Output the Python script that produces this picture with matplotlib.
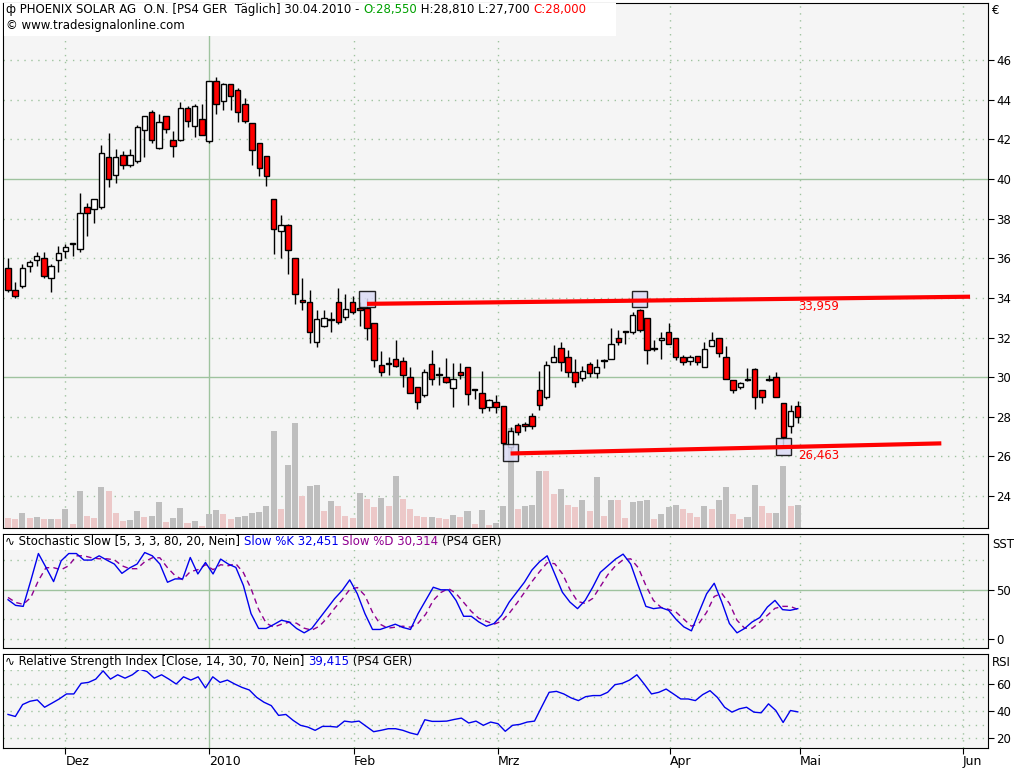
import numpy as np
import matplotlib
matplotlib.use("Agg")
import matplotlib.pyplot as plt
import matplotlib.transforms as mtransforms
from matplotlib.patches import Rectangle

plt.rcParams['font.family'] = ['DejaVu Sans']
plt.rcParams['font.size'] = 8

opens = [35.5,34.4,34.6,35.6,35.9,36.0,35.0,35.9,36.35,36.7,36.45,38.57,38.5,38.6,41.1,40.2,41.2,40.7,40.9,42.45,
         43.4,41.55,43.2,41.95,41.95,43.56,42.65,43.05,41.9,44.92,43.96,44.8,44.5,43.76,42.8,41.8,41.14,38.97,37.4,37.66,
         36.0,33.87,33.77,31.75,32.6,32.9,33.8,33.02,33.8,33.47,33.47,32.71,30.6,30.65,30.9,30.8,29.99,29.48,29.08,30.65,
         30.09,29.99,29.43,30.24,30.5,29.33,29.18,28.48,28.73,28.53,26.5,27.57,27.62,28.02,29.33,28.98,30.75,31.45,31.0,30.24,
         29.94,30.65,30.19,30.8,30.9,31.96,32.26,32.26,33.37,32.97,31.4,31.9,32.26,31.96,31.0,30.8,31.05,30.5,31.55,31.96,
         31.0,29.84,29.48,29.84,30.4,29.33,29.84,29.99,28.68,27.52,28.55]
closes = [34.4,34.1,35.5,35.8,36.1,35.1,35.6,36.25,36.55,36.7,38.26,38.3,38.97,41.3,40.0,41.1,40.7,41.2,42.6,43.16,
          41.95,42.9,42.5,41.65,43.56,42.95,43.7,42.2,44.92,43.76,44.77,44.2,43.4,42.95,41.44,40.53,40.13,37.5,37.66,36.4,
          34.18,33.77,32.26,32.96,33.0,32.96,32.76,33.42,33.3,33.37,32.46,30.85,30.24,30.65,30.54,30.09,29.18,28.73,30.24,29.89,
          30.09,29.74,29.89,30.09,29.13,29.33,28.43,28.83,28.48,26.66,27.26,27.21,27.52,27.52,28.58,30.6,31.0,30.75,30.24,29.74,
          30.29,30.19,30.5,30.8,31.65,31.8,32.26,33.12,32.36,31.35,31.4,32.0,31.65,31.0,30.75,31.0,30.75,31.4,31.86,31.2,
          29.89,29.33,29.69,29.84,28.98,28.98,29.84,28.98,27.0,28.27,28.0]
highs = [36.0,34.8,35.7,35.9,36.3,36.3,35.7,36.6,36.7,36.75,39.3,38.8,39.0,41.7,42.3,41.5,41.4,41.5,42.7,43.2,
         43.5,43.3,43.2,42.4,43.9,43.7,43.8,43.8,44.92,45.15,44.85,44.8,44.6,44.1,42.8,41.8,41.14,38.97,38.2,37.75,
         36.0,35.0,34.4,33.4,33.4,33.3,34.5,34.2,34.1,33.8,34.0,32.71,31.3,31.0,31.9,31.0,30.5,29.5,30.4,31.35,
         30.5,30.95,30.7,30.7,30.5,29.4,30.3,28.9,29.1,28.53,27.5,27.7,27.75,28.2,30.3,30.8,31.6,31.75,31.35,30.9,
         30.55,30.75,30.9,30.9,32.5,32.4,32.26,33.3,33.45,32.97,31.9,32.3,32.75,31.96,31.1,31.1,31.05,31.75,32.3,31.96,
         31.55,29.84,29.75,30.45,30.45,29.35,30.1,30.25,28.68,28.6,28.81]
lows = [34.3,34.0,34.5,35.3,35.6,35.0,34.3,35.3,36.0,36.1,36.3,37.1,37.8,38.5,39.6,39.8,40.5,40.6,40.8,41.1,
        41.8,41.5,42.3,41.1,41.9,42.6,42.1,42.2,41.8,43.3,43.5,43.5,42.9,42.8,40.7,40.15,39.65,36.2,36.0,35.2,
        33.7,33.4,31.7,31.5,32.55,32.3,32.7,32.9,33.2,32.6,31.9,30.5,30.05,30.1,30.5,29.5,29.2,28.4,29.0,29.6,
        29.6,29.7,28.5,29.9,28.6,28.9,28.2,28.3,28.2,26.6,26.3,27.1,27.3,27.4,28.35,28.9,30.75,30.3,30.0,29.5,
        29.8,30.0,29.95,30.45,30.9,31.6,31.65,32.2,32.3,30.65,31.3,30.9,31.65,30.85,30.6,30.6,30.6,30.5,31.55,31.0,
        29.89,29.2,29.4,29.8,28.4,28.7,29.8,28.98,26.6,27.2,27.7]

volume = [10,9,15,10,11,9,9,9,19,4,37,12,10,41,37,15,7,8,17,11,12,26,6,10,20,5,7,2,14,18,14,9,11,12,15,16,22,97,19,63,
          105,32,42,43,17,27,22,12,10,35,29,21,30,22,52,29,
          19,12,11,11,10,9,13,11,17,4,18,3,5,22,100,19,22,23,57,57,34,39,23,21,28,17,51,12,28,28,10,26,27,28,9,14,21,23,
          19,15,11,22,19,28,41,14,9,11,43,22,15,15,62,22,23]
vol_color = list("ppgpgpgpgpgppgpppggpggpggpgpggppggggggpggpggpgpppgppgpgp"
                 "pppgppgpgpgpgggpgggppgppgpgpgppgggpgggpppgpggppggppggpg")

stoch_k = [39.7,34,33,59,86.3,72.3,58,79,86.3,86.3,79.7,79.7,84,79.7,75.7,66.3,71.7,75.7,87.3,84,75.7,57.3,60.7,60.7,82.3,
           65.7,77.3,65.7,80.7,75.7,72.3,54,25.7,10.7,10.7,14.7,19,17.3,10.7,6.3,10.7,20.7,30.7,40.7,49,59.7,45.7,25.7,9.7,9.7,
           12.3,15,11.7,9.7,25.7,39,52.3,49.7,49.7,39,23,23,17.3,13,15.7,24,37.3,47.3,57.3,69.7,78,84,65.7,47.3,37.3,30.7,39,
           52.3,67.3,74,80.7,85.7,75.7,54,33,30.7,31.7,29,19.7,12.3,8.3,27.3,45.7,56.3,37.3,15.7,6.3,10.7,17.3,21.7,32.3,39,
           29.7,29,30.7]
stoch_d = [42,37,35,42,59,72,72,70,74,84,84,82,81,81,80,74,71,71,78,82,82,72,64,60,68,70,75,70,75,74,76,67,51,30,16,12,15,
           17,16,11,9,13,21,31,40,50,52,44,27,15,11,12,13,12,16,25,39,47,51,46,37,28,21,18,15,18,26,36,47,58,68,77,76,66,50,
           38,36,41,53,65,74,80,81,72,54,39,32,30,27,20,13,16,27,43,46,36,19,11,11,17,24,31,33,33,30]
rsi = [37.4,35.9,44.7,47.1,48.1,42.7,45.7,48.8,52.5,52.5,60.3,61,63.4,69.5,63.4,66.6,64.1,66.6,70.7,69,64.1,66.6,63.4,59.8,
       65.1,62.7,65.1,56.9,65.1,61,62.7,59.8,57.3,55.4,50,46.4,43.9,36.7,37.4,33,29.4,28.1,25.7,28.6,28.6,28.1,32.5,31.8,32.5,
       28.6,24.7,25.7,26.9,26.9,25.7,23.8,22.5,33.5,32.3,32.3,32.5,33.7,34.7,31.1,32.5,29.4,31.8,30.6,25,29.4,30.1,31.8,32.5,
       43.2,53.7,54.4,52.5,49.6,47.6,50.5,51.3,51.3,53.7,59.3,60.3,62.7,66.6,59.8,52.5,53.7,56.1,52.5,48.8,48.8,47.6,52,54.9,
       50,42.7,39.1,41.5,42.7,39.1,38.6,45.2,40.3,31.5,40.3,39.3]

resist_pts = ([50, 134], [33.70, 34.06])
support_pts = ([70, 130], [26.15, 26.66])
resist_label, support_label = "33,959", "26,463"
box_pts = [(50, 33.95), (88, 33.95), (70, 26.2), (108, 26.5)]

month_idx = [8, 28, 48.2, 68.2, 92.2, 110.3, 133]
month_lbl = ["Dez", "2010", "Feb", "Mrz", "Apr", "Mai", "Jun"]

W, H = 1024, 768
fig = plt.figure(figsize=(W/100, H/100), dpi=100)
BG = "#f5f5f5"
GRID = "#9fc39f"
XL, XR = -0.7, 136.5

def pane(top, bot):
    ax = fig.add_axes([3/W, 1-bot/H, 985/W, (bot-top)/H])
    ax.set_facecolor(BG)
    ax.set_xlim(XL, XR)
    ax.yaxis.tick_right()
    ax.tick_params(axis='y', direction='out', length=4, labelsize=8.5, pad=2)
    ax.tick_params(axis='x', length=0, labelbottom=False)
    for m in month_idx:
        if m == 28:
            ax.axvline(m, color=GRID, lw=1, zorder=0)
        else:
            ax.axvline(m, color=GRID, lw=1, ls=(0, (1, 4)), zorder=0)
    return ax

n = len(closes)
idx = np.arange(n)

# main pane
ax = pane(3, 528)
ax.set_ylim(22.39, 48.88)
ax.set_yticks(range(24, 47, 2))
for v in range(24, 47, 2):
    if v in (30, 40):
        ax.axhline(v, color=GRID, lw=1, zorder=0)
    else:
        ax.axhline(v, color=GRID, lw=1, ls=(0, (1, 4)), zorder=0)

blend = mtransforms.blended_transform_factory(ax.transData, ax.transAxes)
vi = np.linspace(0, n-1, len(volume))
for x, v, c in zip(vi, volume, vol_color):
    ax.add_patch(Rectangle((x-0.42, 0), 0.84, v/525, transform=blend,
                           facecolor="#bebebe" if c == "g" else "#ecc8c8", edgecolor="none", zorder=1))

for i in idx:
    o, c, h, l = opens[i], closes[i], highs[i], lows[i]
    ax.vlines(i, l, h, color="black", lw=1, zorder=3)
    bot, top = min(o, c), max(o, c)
    face = "white" if c > o else ("red" if c < o else "black")
    hgt = max(top - bot, 0.06)
    ax.add_patch(Rectangle((i-0.38, bot), 0.76, hgt, facecolor=face, edgecolor="black", lw=1, zorder=4))

for (bx, by) in box_pts:
    ax.add_patch(Rectangle((bx-1.05, by-0.42), 2.1, 0.84, facecolor="#dcdcf5", edgecolor="black", lw=1, zorder=5, alpha=0.85))
ax.plot(resist_pts[0], resist_pts[1], color="red", lw=3, zorder=6, solid_capstyle='butt')
ax.plot(support_pts[0], support_pts[1], color="red", lw=3, zorder=6, solid_capstyle='butt')
ax.text(110, 33.55, resist_label, color="red", fontsize=8.5, va="center")
ax.text(110, 26.05, support_label, color="red", fontsize=8.5, va="center")

# stochastic
ax2 = pane(534, 648)
ax2.set_ylim(-9, 106)
ax2.set_yticks([0, 50])
for v in (0, 20, 80):
    ax2.axhline(v, color=GRID, lw=1, ls=(0, (1, 4)), zorder=0)
ax2.axhline(50, color=GRID, lw=1, zorder=0)
ax2.plot(np.linspace(0, n-1, len(stoch_d)), stoch_d, color="#900090", lw=1, ls=(0, (4, 3)))
ax2.plot(np.linspace(0, n-1, len(stoch_k)), stoch_k, color="#0000ee", lw=1)

# RSI
ax3 = pane(654, 748)
ax3.set_ylim(12.7, 81.9)
ax3.set_yticks([20, 40, 60])
for v in (20, 30, 40, 50, 60, 70):
    ax3.axhline(v, color=GRID, lw=1, ls=(0, (1, 4)), zorder=0)
ax3.plot(np.linspace(0, n-1, len(rsi)), rsi, color="#0000ee", lw=1)
ax3.set_xticks(month_idx)
ax3.tick_params(axis='x', direction='out', length=4, labelbottom=True, labelsize=9, pad=1)
ax3.set_xticklabels(month_lbl, ha="left")

# header texts
renderer = fig.canvas.get_renderer()
def chain(x, y, parts, size=8.5):
    for s, col in parts:
        t = fig.text(x/W, 1-y/H, s, color=col, fontsize=size, va="center", ha="left")
        bb = t.get_window_extent(renderer)
        x += bb.width
    return x

fig.patches.append(Rectangle((4/W, 1-36/H), 612/W, 33/H, transform=fig.transFigure, facecolor="white", edgecolor="none", zorder=2))
chain(6, 10, [("ф PHOENIX SOLAR AG  O.N. [PS4 GER  Täglich] 30.04.2010 - ", "black"), ("O:28,550", "#00a000"),
              (" H:28,810 L:27,700 ", "black"), ("C:28,000", "red")])
chain(6, 26, [("© www.tradesignalonline.com", "black")])
fig.patches.append(Rectangle((4/W, 1-550/H), 418/W, 15/H, transform=fig.transFigure, facecolor="white", edgecolor="none", zorder=2))
chain(5, 542, [("∿ Stochastic Slow [5, 3, 3, 80, 20, Nein] ", "black"), ("Slow %K 32,451 ", "#0000ee"),
               ("Slow %D 30,314 ", "#900090"), ("(PS4 GER)", "black")])
fig.patches.append(Rectangle((4/W, 1-670/H), 342/W, 15/H, transform=fig.transFigure, facecolor="white", edgecolor="none", zorder=2))
chain(5, 662, [("∿ Relative Strength Index [Close, 14, 30, 70, Nein] ", "black"), ("39,415", "#0000ee"),
               (" (PS4 GER)", "black")])
fig.text(992/W, 1-10/H, "€", fontsize=8.5, va="center")
fig.text(992/W, 1-545/H, "SST", fontsize=8.5, va="center")
fig.text(992/W, 1-662/H, "RSI", fontsize=8.5, va="center")

fig.savefig("out.png", dpi=100, facecolor="white")
